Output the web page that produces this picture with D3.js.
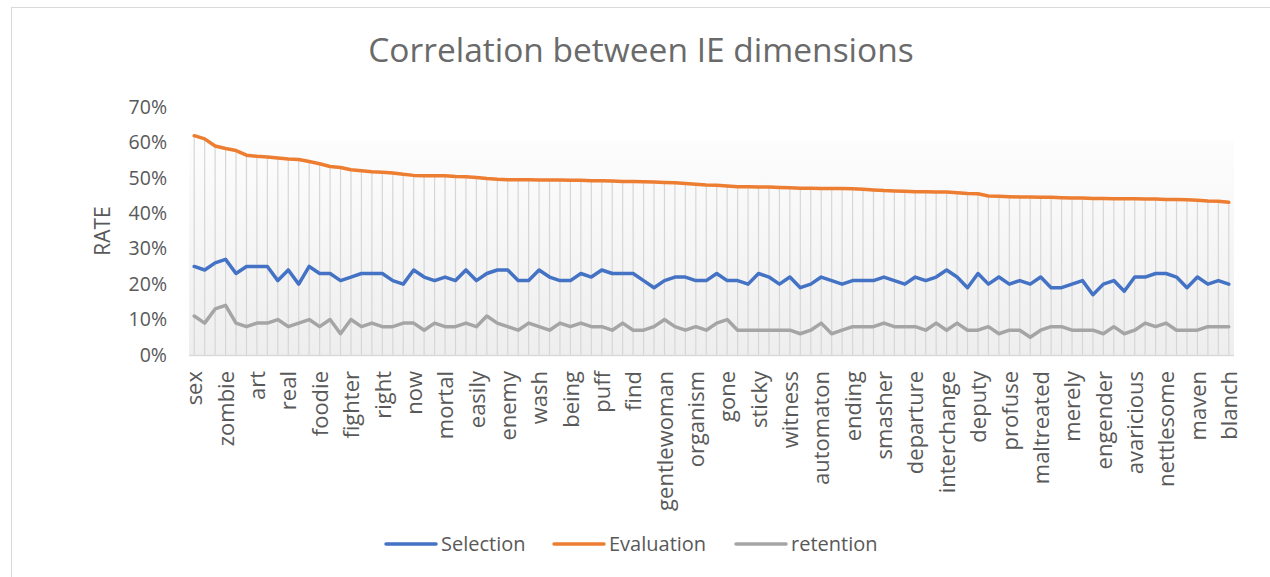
<!DOCTYPE html>
<html>
<head>
<meta charset="utf-8">
<script src="https://cdn.jsdelivr.net/npm/d3@7"></script>
<style>
    body { margin: 0; background: #ffffff; }
    text { font-family: "Open Sans", sans-serif; fill: #595959; }
</style>
</head>
<body>
<div id="chart"></div>
<script>
// Words (x axis categories), 100 in total; only every third one is labelled
let words = [
    "sex", "", "", "zombie", "", "", "art", "", "", "real", "", "", "foodie", "", "", "fighter", "", "",
    "right", "", "", "now", "", "", "mortal", "", "", "easily", "", "", "enemy", "", "", "wash", "", "",
    "being", "", "", "puff", "", "", "find", "", "", "gentlewoman", "", "", "organism", "", "", "gone", "", "",
    "sticky", "", "", "witness", "", "", "automaton", "", "", "ending", "", "", "smasher", "", "",
    "departure", "", "", "interchange", "", "", "deputy", "", "", "profuse", "", "", "maltreated", "", "",
    "merely", "", "", "engender", "", "", "avaricious", "", "", "nettlesome", "", "", "maven", "", "", "blanch"
];

// Series values in percent
let selection = [
    25, 24, 26, 27, 23, 25, 25, 25, 21, 24, 20, 25, 23, 23, 21, 22, 23, 23, 23, 21,
    20, 24, 22, 21, 22, 21, 24, 21, 23, 24, 24, 21, 21, 24, 22, 21, 21, 23, 22, 24,
    23, 23, 23, 21, 19, 21, 22, 22, 21, 21, 23, 21, 21, 20, 23, 22, 20, 22, 19, 20,
    22, 21, 20, 21, 21, 21, 22, 21, 20, 22, 21, 22, 24, 22, 19, 23, 20, 22, 20, 21,
    20, 22, 19, 19, 20, 21, 17, 20, 21, 18, 22, 22, 23, 23, 22, 19, 22, 20, 21, 20
];
let evaluation = [
    61.9, 61.0, 59.0, 58.3, 57.7, 56.4, 56.1, 55.9, 55.6, 55.3, 55.2, 54.6, 54.0, 53.2, 52.9, 52.3, 52.0, 51.7, 51.6, 51.4,
    51.0, 50.7, 50.6, 50.6, 50.6, 50.4, 50.3, 50.1, 49.8, 49.6, 49.5, 49.5, 49.5, 49.4, 49.4, 49.4, 49.3, 49.3, 49.2, 49.2,
    49.1, 49.0, 49.0, 48.9, 48.8, 48.7, 48.6, 48.4, 48.2, 48.0, 47.9, 47.7, 47.5, 47.5, 47.4, 47.4, 47.3, 47.2, 47.1, 47.1,
    47.0, 47.0, 47.0, 46.9, 46.8, 46.6, 46.4, 46.3, 46.2, 46.1, 46.1, 46.0, 46.0, 45.8, 45.6, 45.5, 44.9, 44.8, 44.7, 44.6,
    44.6, 44.5, 44.5, 44.4, 44.3, 44.3, 44.2, 44.2, 44.1, 44.1, 44.1, 44.0, 44.0, 43.9, 43.9, 43.8, 43.7, 43.5, 43.4, 43.1
];
let retention = [
    11, 9, 13, 14, 9, 8, 9, 9, 10, 8, 9, 10, 8, 10, 6, 10, 8, 9, 8, 8,
    9, 9, 7, 9, 8, 8, 9, 8, 11, 9, 8, 7, 9, 8, 7, 9, 8, 9, 8, 8,
    7, 9, 7, 7, 8, 10, 8, 7, 8, 7, 9, 10, 7, 7, 7, 7, 7, 7, 6, 7,
    9, 6, 7, 8, 8, 8, 9, 8, 8, 8, 7, 9, 7, 9, 7, 7, 8, 6, 7, 7,
    5, 7, 8, 8, 7, 7, 7, 6, 8, 6, 7, 9, 8, 9, 7, 7, 7, 8, 8, 8
];
let yTicks = [0, 10, 20, 30, 40, 50, 60, 70];

let seriesNames = ["Selection", "Evaluation", "retention"];
let seriesColors = ["#4472C4", "#ED7D31", "#A5A5A5"];

let displayChart = function () {
    let width = 1270;
    let height = 577;
    let plotLeft = 189;
    let plotRight = 1234;
    let plotTop = 107;
    let plotBottom = 355;

    let svg = d3.select("#chart")
        .append("svg")
        .attr("width", width)
        .attr("height", height);

    // chart border (runs off the right and bottom of the picture)
    svg.append("rect")
        .attr("x", 11.5)
        .attr("y", 7.5)
        .attr("width", 1300)
        .attr("height", 600)
        .style("fill", "#ffffff")
        .style("stroke", "#d9d9d9");

    let xScale = d3.scalePoint()
        .domain(d3.range(words.length))
        .range([plotLeft, plotRight])
        .padding(0.5);

    let yScale = d3.scaleLinear()
        .domain([0, 70])
        .range([plotBottom, plotTop]);

    // plot area gradient
    let grad = svg.append("defs")
        .append("linearGradient")
        .attr("id", "plotFill")
        .attr("x1", 0).attr("y1", 0)
        .attr("x2", 0).attr("y2", 1);
    grad.append("stop").attr("offset", "0%").attr("stop-color", "#fdfdfd");
    grad.append("stop").attr("offset", "100%").attr("stop-color", "#eeeeee");

    svg.append("rect")
        .attr("x", plotLeft)
        .attr("y", yScale(60.5))
        .attr("width", plotRight - plotLeft)
        .attr("height", plotBottom - yScale(60.5))
        .style("fill", "url(#plotFill)");

    // title
    svg.append("text")
        .attr("x", 641)
        .attr("y", 62)
        .attr("text-anchor", "middle")
        .style("font-size", "33.5px")
        .style("fill", "#6a6a6a")
        .text("Correlation between IE dimensions");

    // drop lines from the highest series down to the axis
    svg.selectAll(".drop")
        .data(evaluation)
        .enter()
        .append("line")
        .attr("class", "drop")
        .attr("x1", function (d, i) { return xScale(i); })
        .attr("x2", function (d, i) { return xScale(i); })
        .attr("y1", function (d) { return yScale(d); })
        .attr("y2", plotBottom)
        .style("stroke", "#d6d6d6")
        .style("stroke-width", 1.2);

    // y axis labels
    let yAxis = d3.axisLeft(yScale)
        .tickValues(yTicks)
        .tickSize(0)
        .tickPadding(0)
        .tickFormat(function (d) { return d + "%"; });

    let yG = svg.append("g")
        .attr("transform", "translate(167,0)")
        .call(yAxis);
    yG.select(".domain").remove();
    yG.selectAll("text")
        .style("font-size", "19.5px")
        .style("fill", "#595959");

    // x axis
    let xAxis = d3.axisBottom(xScale)
        .tickSize(0)
        .tickPadding(0)
        .tickFormat(function (d) { return words[d]; });

    let xG = svg.append("g")
        .attr("transform", "translate(0," + plotBottom + ")")
        .call(xAxis);
    xG.select(".domain")
        .attr("d", "M" + plotLeft + ",0.5H" + plotRight)
        .style("stroke", "#d9d9d9")
        .style("stroke-width", 1.5);
    xG.selectAll("text")
        .attr("transform", "rotate(-90)")
        .attr("x", -16)
        .attr("y", 0)
        .attr("dy", "0.35em")
        .style("text-anchor", "end")
        .style("font-size", "22px")
        .style("fill", "#595959");

    // axis title
    svg.append("text")
        .attr("transform", "translate(110,231) rotate(-90)")
        .attr("text-anchor", "middle")
        .style("font-size", "21px")
        .text("RATE");

    // series lines
    let allSeries = [selection, evaluation, retention];
    let line = d3.line()
        .x(function (d, i) { return xScale(i); })
        .y(function (d) { return yScale(d); });

    svg.selectAll(".series")
        .data(allSeries)
        .enter()
        .append("path")
        .attr("class", "series")
        .attr("d", line)
        .style("fill", "none")
        .style("stroke", function (d, i) { return seriesColors[i]; })
        .style("stroke-width", 3.5)
        .style("stroke-linejoin", "round")
        .style("stroke-linecap", "round");

    // legend
    let legendX = [386, 554, 736];
    let legend = svg.selectAll(".legend")
        .data(seriesNames)
        .enter()
        .append("g")
        .attr("class", "legend")
        .attr("transform", function (d, i) { return "translate(" + legendX[i] + ",544)"; });

    legend.append("line")
        .attr("x1", 0)
        .attr("x2", 50)
        .style("stroke", function (d, i) { return seriesColors[i]; })
        .style("stroke-width", 3.5)
        .style("stroke-linecap", "round");

    legend.append("text")
        .attr("x", 55)
        .attr("dy", "0.35em")
        .style("font-size", "20px")
        .text(function (d) { return d; });
};

window.onload = function () {
    displayChart();
};
</script>
</body>
</html>
